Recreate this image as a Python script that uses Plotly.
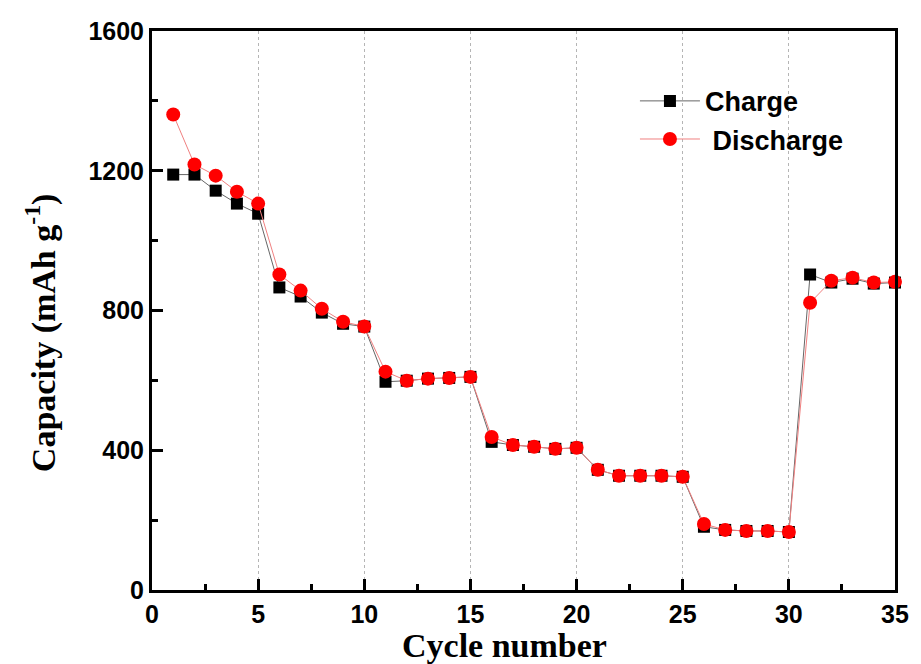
import plotly.graph_objects as go

cycles = list(range(1, 36))
charge = [1189, 1189, 1143, 1106, 1077, 866, 840, 794, 762, 754,
          596, 599, 605, 607, 610, 424, 415, 410, 404, 407,
          344, 327, 327, 327, 324, 181, 172, 169, 169, 166,
          903, 880, 891, 877, 880]
discharge = [1361, 1218, 1186, 1140, 1106, 903, 857, 805, 768, 754,
             625, 599, 605, 607, 610, 438, 415, 410, 404, 407,
             344, 327, 327, 327, 324, 189, 172, 169, 169, 166,
             822, 885, 894, 880, 882]

fig = go.Figure()
fig.add_trace(go.Scatter(x=cycles, y=charge, name="Charge", mode="lines+markers",
                         line=dict(color="#666666", width=1),
                         marker=dict(symbol="square", size=12, color="black"),
                         cliponaxis=False))
fig.add_trace(go.Scatter(x=cycles, y=discharge, name=" Discharge", mode="lines+markers",
                         line=dict(color="#f08080", width=1),
                         marker=dict(symbol="circle", size=14, color="#ff0000"),
                         cliponaxis=False))

tickfont = dict(family="Liberation Sans, Arial", size=25, color="black", weight="bold")
titlefont = dict(family="Liberation Serif, Times New Roman", size=34, color="black", weight="bold")

fig.update_layout(
    width=921, height=664,
    margin=dict(l=152, r=18, t=31, b=74),
    plot_bgcolor="white", paper_bgcolor="white",
    showlegend=True,
    legend=dict(x=0.65, y=0.918, xanchor="left", yanchor="top",
                bgcolor="rgba(0,0,0,0)",
                font=dict(family="Liberation Sans, Arial", size=27, color="black", weight="bold"),
                itemwidth=60),
    xaxis=dict(range=[0, 35], dtick=5,
               showline=True, linewidth=3, linecolor="black", mirror=True,
               ticks="inside", ticklen=11, tickwidth=2.5, tickcolor="black",
               minor=dict(dtick=2.5, ticks="inside", ticklen=6, tickwidth=2.5,
                          tickcolor="black", showgrid=False),
               showgrid=True, gridcolor="#b5b5b5", griddash="dot", gridwidth=1,
               zeroline=False, tickfont=tickfont),
    yaxis=dict(range=[0, 1600], dtick=400,
               showline=True, linewidth=3, linecolor="black", mirror=True,
               ticks="inside", ticklen=11, tickwidth=2.5, tickcolor="black",
               minor=dict(dtick=200, ticks="inside", ticklen=6, tickwidth=2.5,
                          tickcolor="black", showgrid=False),
               showgrid=False, zeroline=False, tickfont=tickfont),
    annotations=[
        dict(text="Cycle number", xref="paper", yref="paper", x=0.474, y=-0.1,
             xanchor="center", yanchor="middle", showarrow=False, font=titlefont),
        dict(text="Capacity (mAh g<sup>-1</sup>)", xref="paper", yref="paper",
             x=-0.149, y=0.46, xanchor="center", yanchor="middle", textangle=-90,
             showarrow=False, font=titlefont),
    ],
)

fig.write_html("out.html")
